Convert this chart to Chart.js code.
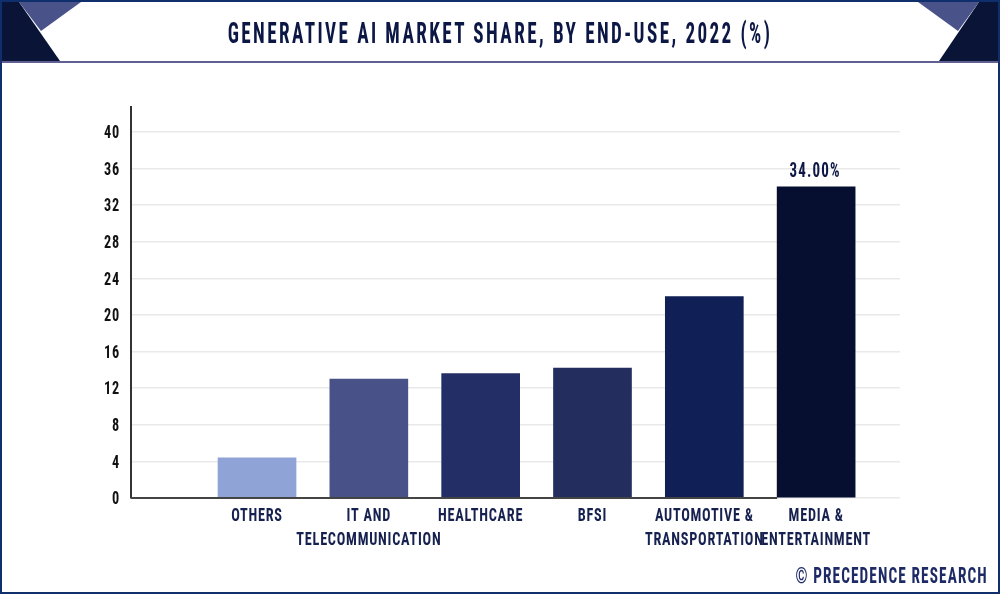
<!DOCTYPE html>
<html><head><meta charset="utf-8">
<script src="https://cdn.jsdelivr.net/npm/chart.js@4"></script>
<style>
html,body{margin:0;padding:0;background:#fff;width:1000px;height:594px;overflow:hidden}
#wrap{position:relative;width:1000px;height:594px;overflow:hidden}
canvas{position:absolute;left:0;top:0}
.d{position:absolute;left:0;top:0;width:1000px;height:594px;pointer-events:none}
.t{position:absolute;white-space:nowrap;font-family:"Roboto Condensed","Liberation Sans Narrow","Liberation Sans",sans-serif;font-weight:700}
#title{left:0;width:1000px;top:16px;text-align:center;font-size:30px;line-height:34px;letter-spacing:3.8px;color:#0c1745;transform:scaleX(.637);transform-origin:500px 0}
#foot{right:12px;top:565px;font-size:22px;line-height:22px;letter-spacing:1.6px;color:#1d2a66;transform:scaleX(.695);transform-origin:100% 0}
</style></head><body>
<div id="wrap">
<canvas id="c" width="1000" height="594"></canvas>
<svg class="d" viewBox="0 0 1000 594">
<rect x="1" y="1" width="998" height="592" fill="none" stroke="#0e2f6b" stroke-width="2"/>
<line x1="0" y1="62" x2="1000" y2="62" stroke="#2b2a70" stroke-width="1.5"/>
<polygon points="19,2 81,2 41,31" fill="#4a5389"/>
<polygon points="2,2 19,2 60,61 2,61" fill="#0a1437"/>
<polygon points="918,2 979,2 958,31" fill="#4a5389"/>
<polygon points="979,2 998,2 998,61 939,61" fill="#0a1437"/>
</svg>
<div class="t" id="title">GENERATIVE AI MARKET SHARE, BY END-USE, 2022 (%)</div>
<div class="t" id="foot">© PRECEDENCE RESEARCH</div>
</div>
<script>
const categories=[["OTHERS"],["IT AND","TELECOMMUNICATION"],["HEALTHCARE"],["BFSI"],["AUTOMOTIVE &","TRANSPORTATION"],["MEDIA &","ENTERTAINMENT"]];
const values=[4.4,13,13.6,14.2,22,34];
const barColors=["#8fa3d6","#485289","#242e66","#232e5e","#101f56","#060f30"];
const yTicks=[0,4,8,12,16,20,24,28,32,36,40];
const labelFont='"Roboto Condensed","Liberation Sans",sans-serif';
const condense=0.75;
const decor={id:'decor',
 beforeDraw(ch){
  const ctx=ch.ctx;
  ctx.letterSpacing='1px';
  if(!ctx._cond){
   ctx._cond=true;
   const f=ctx.fillText;
   ctx.fillText=function(t,x,y){this.save();this.translate(x,y+1.5);this.scale(condense,1);f.call(this,t,0,0);this.restore();};
  }
 },
 afterDatasetsDraw(ch){
  const {ctx,scales:{x,y}}=ch;
  ctx.save();
  ctx.strokeStyle='#444';ctx.lineWidth=2;
  ctx.beginPath();ctx.moveTo(x.left,y.getPixelForValue(0));
  ctx.lineTo(x.getPixelForValue(values.length-1)-39,y.getPixelForValue(0));ctx.stroke();
  ch.getDatasetMeta(0).data.forEach((b,i)=>{
   if(i!==values.length-1)return;
   ctx.fillStyle='#0c1745';ctx.font='700 20px '+labelFont;ctx.textAlign='center';ctx.textBaseline='bottom';
   ctx.letterSpacing='1.6px';
   ctx.fillText(values[i].toFixed(2)+'%',b.x-1,b.y-6);
  });
  ctx.restore();
 }};
new Chart(document.getElementById('c'),{
 type:'bar',
 data:{datasets:[{data:values.map((v,i)=>({x:i,y:v})),backgroundColor:barColors,barThickness:78,borderWidth:0}]},
 plugins:[decor],
 options:{responsive:false,animation:false,devicePixelRatio:1,
  layout:{padding:{top:107,right:100,left:0,bottom:0}},
  plugins:{legend:{display:false},tooltip:{enabled:false}},
  scales:{
   x:{type:'linear',offset:false,min:-1.127,max:5.75,
    afterBuildTicks(a){a.ticks=categories.map((_,i)=>({value:i}));},
    afterFit(a){a.height=96;},
    grid:{display:false},border:{display:false},
    ticks:{autoSkip:false,maxRotation:0,padding:-3,color:'#16214f',font:{family:labelFont,weight:'700',size:19,lineHeight:1.26},
     callback(v){return categories[v];}}},
   y:{min:0,max:42.73,
    afterBuildTicks(a){a.ticks=yTicks.map(v=>({value:v}));},
    afterFit(a){a.width=131;},
    grid:{color:'#e9e9e9',lineWidth:1.5,drawTicks:false},
    border:{display:true,color:'#333',width:2},
    ticks:{padding:11,color:'#111',font:{family:labelFont,weight:'700',size:19}}}
  }}
});
</script>
</body></html>
